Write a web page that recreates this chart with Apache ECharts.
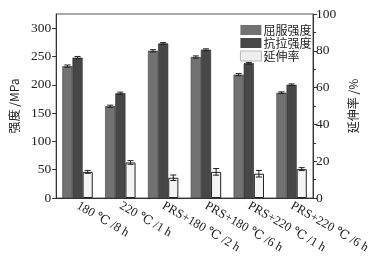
<!DOCTYPE html>
<html>
<head>
<meta charset="utf-8">
<script src="https://cdn.jsdelivr.net/npm/echarts@6/dist/echarts.min.js"></script>
<style>
  html, body { margin: 0; padding: 0; background: #fff; }
  #main { width: 373px; height: 260px; }
</style>
</head>
<body>
<div id="main"></div>
<script>
var categories = ['180 ℃ /8 h', '220 ℃ /1 h', 'PRS+180 ℃ /2 h', 'PRS+180 ℃ /6 h', 'PRS+220 ℃ /1 h', 'PRS+220 ℃ /6 h'];
var yieldStrength = [233, 162, 260, 249, 218, 186];
var yieldErr = [2, 2, 2, 2, 2, 1.5];
var tensileStrength = [248, 185, 273, 262, 238, 200];
var tensileErr = [2, 2, 1.5, 1.5, 1.5, 1.5];
var elongation = [14.2, 19.3, 11, 14.2, 13.2, 15.7];
var elongErr = [0.8, 1, 1.5, 1.8, 1.8, 0.8];
var leftTicks = [0, 50, 100, 150, 200, 250, 300];
var rightTicks = [0, 20, 40, 60, 80, 100];

var font = "'Liberation Serif', 'DejaVu Serif', serif";
var cjk = "'Noto Sans CJK SC', sans-serif";
var catGap = 0.29;

var chartDom = document.getElementById('main');
var myChart = echarts.init(chartDom);
var option;

function errSeries(vals, errs, idx, axis) {
    return {
        type: 'custom',
        yAxisIndex: axis,
        silent: true,
        z: 5,
        data: vals.map(function (v, i) { return [i, v, errs[i]]; }),
        renderItem: function (params, api) {
            var band = api.size([1, 0])[0];
            var bw = band * (1 - catGap) / 3;
            var c = api.coord([api.value(0), api.value(1)]);
            var x = c[0] + (idx - 1) * bw;
            var hi = api.coord([api.value(0), api.value(1) + api.value(2)])[1];
            var lo = api.coord([api.value(0), api.value(1) - api.value(2)])[1];
            var st = { stroke: '#222', lineWidth: 1 };
            return {
                type: 'group',
                children: [
                    { type: 'line', shape: { x1: x, y1: hi, x2: x, y2: lo }, style: st },
                    { type: 'line', shape: { x1: x - 3, y1: hi, x2: x + 3, y2: hi }, style: st },
                    { type: 'line', shape: { x1: x - 3, y1: lo, x2: x + 3, y2: lo }, style: st }
                ]
            };
        }
    };
}

option = {
    animation: false,
    legend: {
        orient: 'vertical',
        left: 235,
        top: 19,
        itemWidth: 21,
        itemHeight: 10,
        itemGap: 1,
        icon: 'rect',
        itemStyle: { borderWidth: 0 },
        data: [
            { name: '屈服强度' },
            { name: '抗拉强度' },
            { name: '延伸率', itemStyle: { color: '#eeeeee', borderColor: '#aaa', borderWidth: 0.8 } }
        ],
        textStyle: { fontSize: 12, color: '#222', padding: [0, 0, 0, -3], fontFamily: cjk }
    },
    grid: {
        left: 47,
        right: 60,
        top: 14,
        bottom: 62,
        show: true,
        borderColor: '#555',
        borderWidth: 1
    },
    xAxis: {
        type: 'category',
        data: categories,
        axisLine: { lineStyle: { color: '#333' } },
        axisTick: { show: false },
        axisLabel: {
            rotate: -30,
            interval: 0,
            margin: 7,
            fontSize: 12.5,
            color: '#222',
            fontFamily: font
        }
    },
    yAxis: [
        {
            type: 'value',
            min: 0,
            max: 325,
            interval: 50,
            name: '强度 /MPa',
            nameLocation: 'middle',
            nameRotate: 90,
            nameGap: 33,
            nameTextStyle: { fontSize: 12, color: '#222', fontFamily: cjk },
            axisLine: { show: true, lineStyle: { color: '#333' } },
            axisTick: { show: true, length: 4 },
            splitLine: { show: false },
            axisLabel: {
                fontSize: 13.5,
                color: '#222',
                margin: 5,
                fontFamily: font,
                showMaxLabel: false,
                formatter: function (v) { return leftTicks.indexOf(v) >= 0 ? v : ''; }
            }
        },
        {
            type: 'value',
            min: 0,
            max: 100,
            interval: 20,
            name: '延伸率 /%',
            nameLocation: 'middle',
            nameRotate: 90,
            nameGap: 33,
            nameTextStyle: { fontSize: 12, color: '#222', fontFamily: cjk },
            axisLine: { show: true, lineStyle: { color: '#333' } },
            axisTick: { show: true, length: 4 },
            minorTick: { show: true, splitNumber: 2, length: 3, lineStyle: { color: '#333' } },
            splitLine: { show: false },
            axisLabel: {
                fontSize: 13.5,
                color: '#222',
                margin: 3,
                fontFamily: font,
                formatter: function (v) { return rightTicks.indexOf(v) >= 0 ? v : ''; }
            }
        }
    ],
    series: [
        {
            name: '屈服强度',
            type: 'bar',
            data: yieldStrength,
            barGap: 0,
            barCategoryGap: '29%',
            itemStyle: { color: '#727272', borderColor: '#3a3a3a', borderWidth: 0.6 }
        },
        {
            name: '抗拉强度',
            type: 'bar',
            data: tensileStrength,
            itemStyle: { color: '#474747', borderColor: '#2a2a2a', borderWidth: 0.6 }
        },
        {
            name: '延伸率',
            type: 'bar',
            yAxisIndex: 1,
            data: elongation,
            itemStyle: { color: '#f4f4f4', borderColor: '#222', borderWidth: 1 }
        },
        errSeries(yieldStrength, yieldErr, 0, 0),
        errSeries(tensileStrength, tensileErr, 1, 0),
        errSeries(elongation, elongErr, 2, 1)
    ]
};

option && myChart.setOption(option);
</script>
</body>
</html>
